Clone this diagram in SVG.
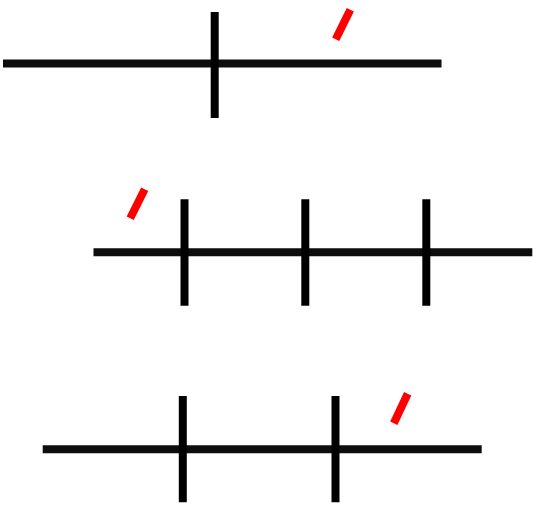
<svg xmlns="http://www.w3.org/2000/svg" width="539" height="505" viewBox="0 0 539 505">
<style>
.k{stroke:#000;stroke-width:8;fill:none}
.h{stroke:#0d0d0d;stroke-width:8;fill:none}
.r{stroke:#ff0000;stroke-width:8;fill:none}
</style>
<rect width="539" height="505" fill="#fff"/>
<g id="row1">
<line class="h" x1="3" y1="63.5" x2="441.5" y2="63.5"/>
<line class="k" x1="214.7" y1="12" x2="214.7" y2="118"/>
<line class="r" x1="350.3" y1="9.8" x2="335.7" y2="39.3"/>
</g>
<g id="row2">
<line class="h" x1="93.5" y1="252.3" x2="532.3" y2="252.3"/>
<line class="k" x1="184.5" y1="199.3" x2="184.5" y2="305.7"/>
<line class="k" x1="305.3" y1="199.3" x2="305.3" y2="305.7"/>
<line class="k" x1="426.3" y1="199.3" x2="426.3" y2="305.7"/>
<line class="r" x1="144.7" y1="189.2" x2="130.2" y2="218.2"/>
</g>
<g id="row3">
<line class="h" x1="42.7" y1="449.2" x2="481.7" y2="449.2"/>
<line class="k" x1="182.8" y1="396" x2="182.8" y2="502.3"/>
<line class="k" x1="335.5" y1="396" x2="335.5" y2="502.3"/>
<line class="r" x1="407.7" y1="393.8" x2="393.8" y2="423.2"/>
</g>
</svg>
